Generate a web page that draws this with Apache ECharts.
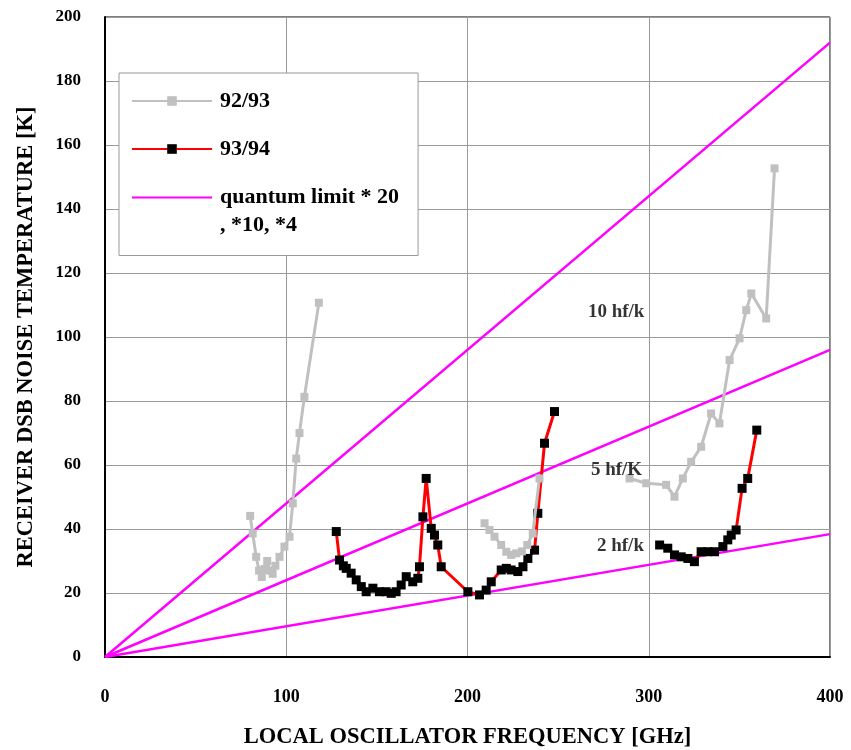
<!DOCTYPE html>
<html>
<head>
<meta charset="utf-8">
<script src="https://cdn.jsdelivr.net/npm/echarts@6/dist/echarts.min.js"></script>
<style>
  html, body { margin: 0; padding: 0; background: #fff; }
  #chart { width: 851px; height: 750px; }
</style>
</head>
<body>
<div id="chart"></div>
<script>
// 92/93 receiver noise (gray), three bands
const gray9293A = [[80.1,44.1],[81.5,38.6],[83.4,31.3],[85,27],[86.5,25],[88,27.5],[89.5,30],[91,27],[92.5,26],[94,28.5],[96.3,31.3],[99,34.5],[101.8,37.6],[103.6,48],[105.5,62],[107.3,70],[110,81.3],[118,110.7]];
const gray9293B = [[209.4,41.8],[212.1,39.7],[214.9,37.6],[218.6,35],[221.4,32.9],[224.1,31.9],[226.9,32.4],[230,33],[233,35],[236,38.6],[239.7,55.8]];
const gray9293C = [[289.4,55.8],[298.6,54.3],[309.6,53.8],[314.2,50.1],[318.8,55.8],[323.4,61],[328.9,65.7],[334.4,76.1],[339,73],[344.6,92.8],[350.1,99.6],[353.8,108.4],[356.6,113.6],[364.8,105.8],[369.4,152.7]];

// 93/94 receiver noise (red line, black squares), two bands
const red9394A = [[127.6,39.2],[129.4,30.3],[131.5,28.5],[133.1,27.7],[135.8,26.2],[138.6,24.1],[141.4,22],[144.1,20.4],[147.8,21.5],[151.4,20.4],[155.1,20.4],[157.9,19.9],[160.6,20.4],[163.4,22.5],[166.2,25.1],[169.8,23.5],[172.6,24.6],[173.5,28.2],[175.4,43.8],[177.2,55.8],[180,40.2],[181.8,38.1],[183.6,35],[185.5,28.2],[200.2,20.4],[206.6,19.4],[210.3,20.9],[213.1,23.5],[218.6,27.2],[221.4,27.7],[224.1,27.2],[227.8,26.7],[230.6,28.2],[233.3,30.8],[237,33.4],[238.8,44.9],[242.5,66.8],[248,76.7]];
const red9394B = [[306,35],[310.5,34],[314.2,31.9],[317.9,31.3],[321.6,30.8],[325.2,29.8],[328.9,32.9],[332.6,32.9],[336.3,32.9],[340.9,34.5],[343.6,36.6],[345.5,38.1],[348.2,39.7],[351.5,52.7],[354.6,55.8],[359.6,70.9]];

// quantum limit lines: values at 400 GHz (*20, *10, *4)
const qlFreqs = [0, 400];
const qlEnds = [192, 96, 38.4];
const qlName = 'quantum limit * 20\n, *10, *4';

// labels next to the lines
const hfLabels = ['10 hf/k', '5 hf/K', '2 hf/k'];
const hfLabelPos = [[282, 107.8], [282.2, 58.4], [284.4, 34.7]];

const GAP = ['-', '-'];

const serif = '"Liberation Serif", "DejaVu Serif", serif';
const chart = echarts.init(document.getElementById('chart'));

const qlSeries = qlEnds.map((end) => ({
  name: qlName,
  type: 'line',
  data: qlFreqs.map((f) => [f, end * f / qlFreqs[1]]),
  symbol: 'none',
  lineStyle: { color: '#FF00FF', width: 2.5 },
  itemStyle: { color: '#FF00FF' },
  z: 2,
  silent: true,
}));

// legend text: first line sits level with the icon, a second line hangs below
const legendFmt = (name) =>
  name.split('\n').map((l, i) => `{${i === 0 ? 'a' : 'b'}|${l}}`).join('\n');

chart.setOption({
  backgroundColor: '#fff',
  animation: false,
  grid: {
    left: 105, right: 21, top: 17, bottom: 93,
    outerBoundsMode: 'none',
    show: true, borderColor: '#000', borderWidth: 1,
  },
  xAxis: {
    type: 'value',
    min: 0, max: 400, interval: 100,
    name: 'LOCAL OSCILLATOR FREQUENCY [GHz]',
    nameLocation: 'middle',
    nameGap: 69,
    nameTextStyle: { fontFamily: serif, fontWeight: 'bold', fontSize: 22.5, color: '#000' },
    axisLine: { lineStyle: { color: '#000', width: 2 } },
    axisTick: { show: false },
    axisLabel: { fontFamily: serif, fontWeight: 'bold', fontSize: 18, color: '#000', margin: 31 },
    splitLine: { lineStyle: { color: '#9a9a9a', width: 1 } },
  },
  yAxis: {
    type: 'value',
    min: 0, max: 200, interval: 20,
    name: 'RECEIVER DSB NOISE TEMPERATURE [K]',
    nameLocation: 'middle',
    nameGap: 67,
    nameTextStyle: { fontFamily: serif, fontWeight: 'bold', fontSize: 22.5, color: '#000' },
    axisLine: { lineStyle: { color: '#000', width: 2 } },
    axisTick: { show: false },
    axisLabel: { fontFamily: serif, fontWeight: 'bold', fontSize: 17, color: '#000', margin: 24 },
    splitLine: { lineStyle: { color: '#9a9a9a', width: 1 } },
  },
  legend: {
    orient: 'vertical',
    left: 119,
    top: 73,
    padding: [17, 19, 19, 12],
    backgroundColor: '#fff',
    borderColor: '#999',
    borderWidth: 1,
    borderRadius: 0,
    itemWidth: 80,
    itemHeight: 12,
    itemGap: 26,
    data: [
      '92/93',
      '93/94',
      { name: qlName, itemStyle: { opacity: 0 } },
    ],
    formatter: legendFmt,
    textStyle: {
      fontFamily: serif, fontWeight: 'bold', fontSize: 22, color: '#000',
      padding: [0, 0, 0, 3],
      rich: {
        a: { fontFamily: serif, fontWeight: 'bold', fontSize: 22, color: '#000', lineHeight: 56 },
        b: { fontFamily: serif, fontWeight: 'bold', fontSize: 22, color: '#000', lineHeight: 1 },
      },
    },
  },
  series: [
    ...qlSeries,
    {
      name: '93/94',
      type: 'line',
      data: [...red9394A, GAP, ...red9394B],
      symbol: 'rect',
      symbolSize: 9,
      showAllSymbol: true,
      connectNulls: false,
      lineStyle: { color: '#FF0000', width: 3 },
      itemStyle: { color: '#000' },
      z: 3,
    },
    {
      name: '92/93',
      type: 'line',
      data: [...gray9293A, GAP, ...gray9293B, GAP, ...gray9293C],
      symbol: 'rect',
      symbolSize: 8,
      showAllSymbol: true,
      connectNulls: false,
      lineStyle: { color: '#C0C0C0', width: 3 },
      itemStyle: { color: '#C0C0C0' },
      z: 4,
    },
    {
      name: 'hf labels',
      type: 'scatter',
      data: hfLabelPos.map((p, i) => ({ name: hfLabels[i], value: p })),
      symbolSize: 0,
      silent: true,
      z: 5,
      label: {
        show: true,
        position: 'inside',
        formatter: (p) => p.name,
        fontFamily: serif,
        fontWeight: 'bold',
        fontSize: 19,
        color: '#000',
      },
    },
  ],
});
</script>
</body>
</html>
